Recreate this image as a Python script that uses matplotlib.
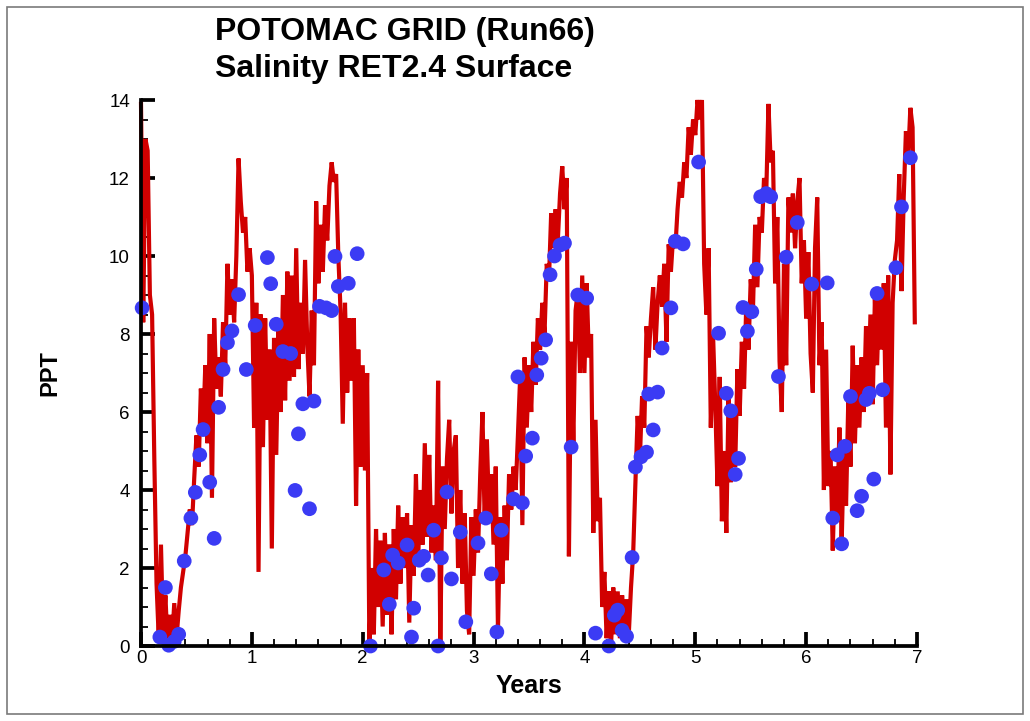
import numpy as np
import matplotlib
matplotlib.use("Agg")
import matplotlib.pyplot as plt
from matplotlib.ticker import MultipleLocator
from matplotlib.patches import Rectangle

# Modelled surface salinity, one value every 0.02 years, year by year
sal_y0 = [13.9, 8.3, 13.0, 12.7, 9.0, 8.5, 4.8, 1.6, 0.2, 2.6,
          0.3, 1.3, 0.0, 0.8, 0.1, 1.1, 0.2, 0.9, 1.5, 1.9,
          2.3, 2.9, 3.5, 3.1, 4.3, 5.4, 4.6, 6.6, 5.5, 7.2,
          5.2, 8.0, 3.8, 8.4, 6.6, 7.4, 6.4, 8.3, 7.2, 9.8,
          8.5, 9.4, 8.3, 10.0, 12.5, 11.4, 10.6, 11.0, 9.6, 10.2]
sal_y1 = [9.5, 5.6, 8.8, 1.9, 8.5, 5.1, 8.4, 5.8, 7.6, 2.5,
          7.9, 4.9, 8.1, 6.0, 9.0, 6.3, 9.6, 6.8, 9.5, 6.9,
          10.2, 7.1, 8.8, 7.5, 9.9, 7.7, 6.4, 8.6, 7.2, 11.4,
          9.3, 10.8, 9.6, 11.3, 10.4, 11.8, 12.4, 11.9, 12.1, 10.0,
          8.6, 5.7, 8.8, 6.5, 8.4, 6.8, 8.4, 3.6, 7.6, 4.6]
sal_y2 = [7.2, 4.5, 7.0, 0.0, 2.0, 0.3, 3.0, 1.0, 2.7, 0.5,
          2.9, 0.8, 2.6, 0.3, 3.0, 1.2, 3.6, 1.6, 3.3, 2.0,
          3.4, 0.6, 3.1, 1.8, 4.4, 2.2, 4.0, 2.6, 5.2, 2.8,
          4.9, 2.4, 3.6, 2.2, 6.8, 0.0, 4.6, 3.0, 4.8, 5.8,
          3.4, 5.0, 5.4, 2.0, 4.0, 1.6, 3.4, 0.9, 0.3, 3.3]
sal_y3 = [1.8, 3.5, 2.4, 4.4, 6.0, 3.2, 5.3, 3.4, 4.4, 2.6,
          4.6, 0.4, 3.3, 1.6, 3.6, 2.2, 4.4, 3.5, 4.6, 4.0,
          5.4, 6.9, 3.1, 7.4, 5.6, 7.2, 6.0, 7.8, 6.7, 8.4,
          7.6, 8.8, 8.0, 9.8, 9.4, 11.1, 10.2, 11.2, 10.4, 11.6,
          12.3, 11.2, 12.0, 2.3, 7.8, 5.2, 8.6, 9.1, 7.0, 9.5]
sal_y4 = [7.0, 9.3, 7.4, 8.0, 2.9, 5.8, 3.2, 3.8, 1.0, 1.9,
          0.2, 1.4, 0.0, 1.5, 0.3, 1.4, 0.2, 1.3, 0.4, 1.2,
          0.3, 1.5, 2.4, 4.2, 5.9, 4.8, 6.4, 5.6, 8.2, 7.4,
          8.4, 9.2, 7.6, 8.8, 9.5, 8.7, 9.8, 7.8, 10.3, 9.6,
          10.5, 10.2, 11.2, 11.9, 11.5, 12.4, 12.0, 13.3, 12.6, 13.5]
sal_y5 = [13.1, 14.0, 13.5, 14.0, 9.8, 8.5, 10.2, 5.6, 8.0, 6.2,
          4.1, 6.9, 3.2, 5.0, 2.9, 6.4, 4.2, 6.0, 4.6, 7.1,
          5.9, 7.8, 6.6, 8.8, 7.6, 9.4, 8.6, 10.8, 9.2, 11.0,
          10.6, 12.0, 11.6, 13.9, 12.4, 12.7, 9.3, 11.0, 7.3, 6.0,
          9.8, 7.2, 11.5, 10.6, 11.6, 10.2, 11.4, 12.0, 9.3, 10.4]
sal_y6 = [8.4, 10.1, 7.5, 6.5, 10.2, 11.5, 7.2, 8.3, 4.0, 7.6,
          4.1, 5.0, 2.45, 4.6, 3.2, 5.6, 2.6, 5.0, 3.6, 6.3,
          4.6, 7.7, 5.2, 7.2, 5.6, 7.4, 6.0, 8.2, 6.4, 8.5,
          6.2, 8.9, 7.2, 9.1, 7.6, 9.3, 5.6, 9.5, 4.4, 8.8,
          9.9, 10.4, 12.1, 9.1, 11.5, 13.2, 12.5, 13.8, 13.3, 8.3]

model_ppt = np.array(sal_y0 + sal_y1 + sal_y2 + sal_y3 + sal_y4 + sal_y5 + sal_y6)
model_years = np.arange(len(model_ppt)) * 0.02

# Observed surface salinity samples
obs_years = [0.01, 0.17, 0.22, 0.25, 0.30, 0.34, 0.39, 0.45, 0.49, 0.53,
             0.56, 0.62, 0.66, 0.70, 0.74, 0.78, 0.82, 0.88, 0.95, 1.03,
             1.14, 1.17, 1.22, 1.28, 1.35, 1.39, 1.42, 1.46, 1.52, 1.56,
             1.61, 1.67, 1.72, 1.75, 1.78, 1.87, 1.95, 2.07, 2.19, 2.24,
             2.27, 2.32, 2.40, 2.44, 2.46, 2.51, 2.55, 2.59, 2.64, 2.68,
             2.71, 2.76, 2.80, 2.88, 2.93, 3.04, 3.11, 3.16, 3.21, 3.25,
             3.36, 3.40, 3.44, 3.47, 3.53, 3.57, 3.61, 3.65, 3.69, 3.73,
             3.78, 3.82, 3.88, 3.94, 4.02, 4.10, 4.22, 4.27, 4.30, 4.34,
             4.38, 4.43, 4.46, 4.51, 4.56, 4.58, 4.62, 4.66, 4.70, 4.78,
             4.82, 4.89, 5.03, 5.21, 5.28, 5.32, 5.36, 5.39, 5.43, 5.47,
             5.51, 5.55, 5.59, 5.64, 5.68, 5.75, 5.82, 5.92, 6.05, 6.19,
             6.24, 6.28, 6.32, 6.35, 6.40, 6.46, 6.50, 6.54, 6.57, 6.61,
             6.64, 6.69, 6.81, 6.86, 6.94]
obs_ppt = [8.67, 0.23, 1.50, 0.02, 0.12, 0.30, 2.18, 3.28, 3.94, 4.90,
           5.55, 4.20, 2.76, 6.12, 7.09, 7.78, 8.08, 9.01, 7.09, 8.22,
           9.96, 9.29, 8.25, 7.55, 7.50, 3.99, 5.44, 6.21, 3.52, 6.28,
           8.71, 8.67, 8.60, 9.99, 9.22, 9.30, 10.06, 0.00, 1.95, 1.07,
           2.33, 2.13, 2.59, 0.23, 0.97, 2.20, 2.30, 1.82, 2.97, 0.00,
           2.26, 3.95, 1.72, 2.92, 0.62, 2.64, 3.28, 1.85, 0.36, 2.97,
           3.77, 6.90, 3.67, 4.87, 5.33, 6.95, 7.38, 7.85, 9.52, 10.00,
           10.28, 10.33, 5.10, 9.00, 8.92, 0.33, 0.00, 0.79, 0.92, 0.40,
           0.25, 2.27, 4.59, 4.85, 4.97, 6.46, 5.54, 6.51, 7.64, 8.67,
           10.38, 10.31, 12.41, 8.02, 6.48, 6.03, 4.40, 4.81, 8.68, 8.07,
           8.57, 9.66, 11.52, 11.60, 11.52, 6.91, 9.97, 10.86, 9.28, 9.31,
           3.28, 4.90, 2.62, 5.12, 6.40, 3.47, 3.84, 6.32, 6.48, 4.28,
           9.04, 6.57, 9.70, 11.26, 12.52]

x_ticks = [0, 1, 2, 3, 4, 5, 6, 7]
y_ticks = [0, 2, 4, 6, 8, 10, 12, 14]

plt.rcParams['font.family'] = ['Liberation Sans', 'DejaVu Sans']

fig = plt.figure(figsize=(10.30, 7.21), dpi=100)
fig.patch.set_facecolor('white')
ax = fig.add_axes([0.1369, 0.1040, 0.7534, 0.7573])

ax.plot(model_years, model_ppt, color='#d10000', lw=3.0, zorder=2,
        solid_joinstyle='miter', clip_on=False)
ax.scatter(obs_years, obs_ppt, s=112, color='#3b3bf4', edgecolors='none',
           zorder=3, clip_on=False)

ax.set_xlim(0, 7)
ax.set_ylim(0, 14)
ax.set_xticks(x_ticks)
ax.set_yticks(y_ticks)
ax.xaxis.set_minor_locator(MultipleLocator(0.2))
ax.yaxis.set_minor_locator(MultipleLocator(0.5))

for side in ('top', 'right'):
    ax.spines[side].set_visible(False)
for side in ('left', 'bottom'):
    ax.spines[side].set_linewidth(2.7)
    ax.spines[side].set_zorder(4)

ax.tick_params(which='major', direction='in', length=10, width=2.7,
               labelsize=13.5, color='black')
ax.tick_params(which='minor', direction='in', length=5, width=1.3)
ax.tick_params(axis='x', which='major', pad=3)
ax.tick_params(axis='y', which='major', pad=8)

ax.set_xlabel('Years', fontsize=18, fontweight='bold', labelpad=5)
ax.set_ylabel('PPT', fontsize=17, fontweight='bold')
ax.yaxis.set_label_coords(-0.103, 0.5)

fig.text(0.2087, 0.9445, 'POTOMAC GRID (Run66)', fontsize=23,
         fontweight='bold', ha='left', va='baseline')
fig.text(0.2087, 0.8932, 'Salinity RET2.4 Surface', fontsize=23,
         fontweight='bold', ha='left', va='baseline')

fig.add_artist(Rectangle((7 / 1030, 7 / 721), 1016 / 1030, 707 / 721,
                         transform=fig.transFigure, fill=False,
                         edgecolor='#7a7a7a', lw=1.2))

fig.savefig('out.png', dpi=100, facecolor='white')
